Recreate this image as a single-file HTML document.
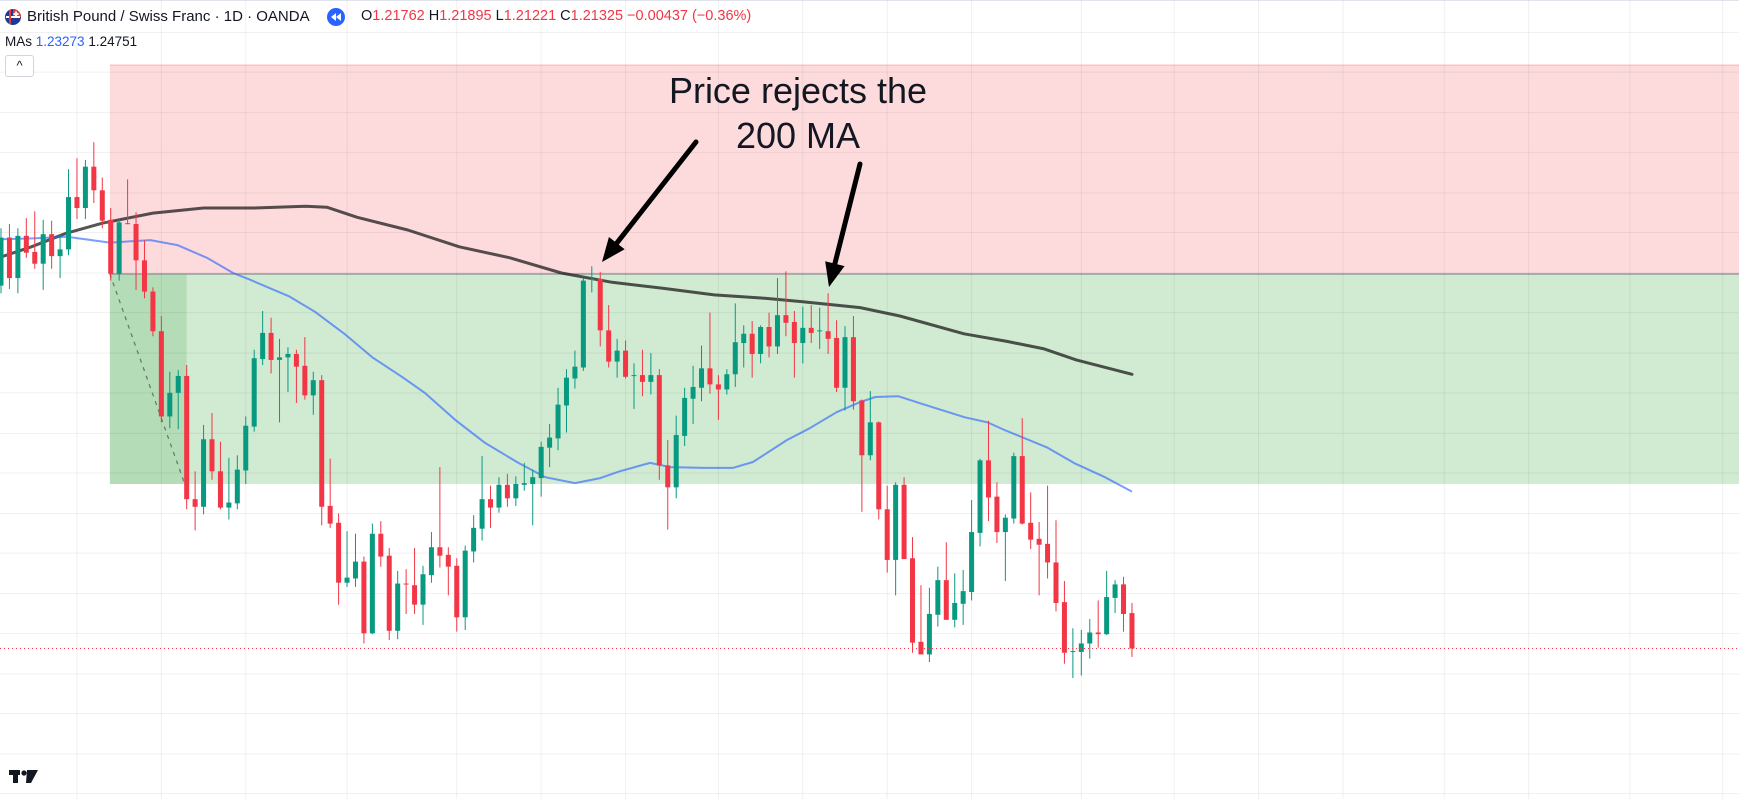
<!DOCTYPE html>
<html><head><meta charset="utf-8"><title>GBPCHF chart</title>
<style>
html,body{margin:0;padding:0;background:#fff;}
body{width:1739px;height:799px;overflow:hidden;position:relative;font-family:"Liberation Sans",sans-serif;}
#chart{position:absolute;left:0;top:0;}
.hdr{position:absolute;left:0;top:0;height:34px;width:1739px;font-size:15px;color:#131722;white-space:nowrap;}
.red{color:#f23645;}
</style></head>
<body>
<svg id="chart" width="1739" height="799" viewBox="0 0 1739 799" xmlns="http://www.w3.org/2000/svg">
  <rect x="0" y="0" width="1739" height="799" fill="#ffffff"/>
  <line x1="0" y1="0.5" x2="1739" y2="0.5" stroke="#e0e3eb"/>
  <g id="zones"></g>
  <g id="grid"></g>
  <g id="mas"></g>
  <g id="candles"></g>
  <g id="annot">
    <text x="798" y="103" font-size="36" text-anchor="middle" fill="#131722" font-family="Liberation Sans, sans-serif">Price rejects the</text>
    <text x="798" y="148" font-size="36" text-anchor="middle" fill="#131722" font-family="Liberation Sans, sans-serif">200 MA</text>
  </g>
  <g>
    <rect x="9" y="770" width="11" height="5" fill="#131722"/>
    <rect x="13" y="770" width="5" height="13" fill="#131722"/>
    <circle cx="24" cy="773" r="2.6" fill="#131722"/>
    <polygon points="27,770 32,770 38,770 31,783 26,783" fill="#131722"/>
  </g>
</svg>

<div class="hdr">
  <svg style="position:absolute;left:4px;top:8px" width="18" height="18">
    <circle cx="9" cy="9" r="8" fill="#1f3a93"/>
    <path d="M9 1 A8 8 0 0 1 17 9 L9 9 Z" fill="#e53935"/>
    <rect x="11" y="3.5" width="2" height="5" fill="#fff"/><rect x="9.5" y="5" width="5" height="2" fill="#fff"/>
    <line x1="2" y1="9" x2="16" y2="9" stroke="#fff" stroke-width="2"/>
    <line x1="6" y1="2" x2="6" y2="16" stroke="#e53935" stroke-width="2"/>
  </svg>
  <span style="position:absolute;left:27px;top:8px;font-size:15px">British Pound / Swiss Franc · 1D · OANDA</span>
  <svg style="position:absolute;left:327px;top:8px" width="18" height="18">
    <circle cx="9" cy="9" r="9" fill="#2962ff"/>
    <polygon points="4,9 9,5 9,13" fill="#fff"/><polygon points="9,9 14,5 14,13" fill="#fff"/>
  </svg>
  <span style="position:absolute;left:361px;top:8px;font-size:14.5px">O<span class="red">1.21762</span> H<span class="red">1.21895</span> L<span class="red">1.21221</span> C<span class="red">1.21325</span> <span class="red">−0.00437 (−0.36%)</span></span>
  <span style="position:absolute;left:5px;top:34px;font-size:13.5px">MAs <span style="color:#2962ff">1.23273</span> 1.24751</span>
  <div style="position:absolute;left:5px;top:55px;width:27px;height:20px;border:1px solid #d1d4dc;border-radius:3px;background:#fff;text-align:center;font-size:13px;line-height:20px">^</div>
</div>

<script>
// ---- data ----
const opens = [1.2601,1.2658,1.2610,1.2660,1.2641,1.2627,1.2662,1.2636,1.2644,1.2706,1.2693,1.2742,1.2714,1.2679,1.2615,1.2675,1.2674,1.2631,1.2594,1.2547,1.2446,1.2474,1.2494,1.2348,1.2339,1.2419,1.2381,1.2338,1.2343,1.2382,1.2434,1.2514,1.2545,1.2513,1.2516,1.2520,1.2506,1.2471,1.2489,1.2340,1.2320,1.2249,1.2254,1.2274,1.2189,1.2307,1.2281,1.2192,1.2248,1.2246,1.2223,1.2258,1.2291,1.2282,1.2269,1.2208,1.2286,1.2313,1.2348,1.2338,1.2365,1.2349,1.2365,1.2366,1.2373,1.2409,1.2420,1.2459,1.2491,1.2504,1.2608,1.2609,1.2548,1.2511,1.2524,1.2494,1.2495,1.2487,1.2495,1.2388,1.2362,1.2423,1.2467,1.2480,1.2503,1.2484,1.2478,1.2496,1.2533,1.2544,1.2520,1.2552,1.2529,1.2566,1.2558,1.2533,1.2551,1.2547,1.2547,1.2539,1.2480,1.2540,1.2465,1.2400,1.2439,1.2336,1.2276,1.2365,1.2278,1.2179,1.2164,1.2211,1.2252,1.2205,1.2224,1.2238,1.2308,1.2394,1.2351,1.2309,1.2325,1.2399,1.2320,1.2301,1.2295,1.2273,1.2226,1.2167,1.2167,1.2177,1.2190,1.2188,1.2231,1.2247,1.2213];
const highs = [1.2669,1.2674,1.2669,1.2681,1.2689,1.2679,1.2678,1.2661,1.2739,1.2752,1.2750,1.2771,1.2729,1.2693,1.2679,1.2727,1.2688,1.2655,1.2599,1.2565,1.2499,1.2501,1.2507,1.2381,1.2436,1.2450,1.2416,1.2397,1.2400,1.2446,1.2525,1.2571,1.2563,1.2538,1.2528,1.2525,1.2540,1.2499,1.2495,1.2396,1.2331,1.2310,1.2307,1.2280,1.2319,1.2322,1.2290,1.2263,1.2265,1.2290,1.2269,1.2309,1.2386,1.2291,1.2278,1.2293,1.2329,1.2399,1.2364,1.2374,1.2378,1.2375,1.2391,1.2383,1.2416,1.2437,1.2480,1.2502,1.2524,1.2610,1.2624,1.2617,1.2578,1.2538,1.2536,1.2509,1.2525,1.2521,1.2502,1.2418,1.2447,1.2480,1.2506,1.2530,1.2569,1.2495,1.2502,1.2580,1.2554,1.2559,1.2554,1.2569,1.2610,1.2618,1.2571,1.2576,1.2578,1.2575,1.2592,1.2560,1.2553,1.2565,1.2466,1.2476,1.2440,1.2364,1.2368,1.2374,1.2303,1.2246,1.2243,1.2268,1.2297,1.2260,1.2264,1.2347,1.2396,1.2441,1.2368,1.2330,1.2403,1.2444,1.2356,1.2321,1.2364,1.2323,1.2251,1.2195,1.2193,1.2206,1.2228,1.2263,1.2252,1.2256,1.2225];
const lows = [1.2592,1.2597,1.2592,1.2634,1.2621,1.2596,1.2621,1.2610,1.2637,1.2680,1.2680,1.2699,1.2669,1.2607,1.2607,1.2674,1.2596,1.2586,1.2541,1.2439,1.2432,1.2431,1.2336,1.2311,1.2330,1.2371,1.2336,1.2324,1.2336,1.2366,1.2428,1.2507,1.2497,1.2439,1.2475,1.2462,1.2466,1.2448,1.2317,1.2314,1.2223,1.2244,1.2244,1.2177,1.2188,1.2268,1.2181,1.2182,1.2212,1.2212,1.2199,1.2249,1.2267,1.2234,1.2191,1.2193,1.2273,1.2299,1.2314,1.2332,1.2339,1.2340,1.2358,1.2317,1.2351,1.2386,1.2406,1.2427,1.2479,1.2500,1.2593,1.2529,1.2504,1.2492,1.2491,1.2455,1.2470,1.2472,1.2371,1.2312,1.2349,1.2411,1.2437,1.2464,1.2473,1.2442,1.2472,1.2481,1.2504,1.2492,1.2509,1.2516,1.2520,1.2541,1.2492,1.2509,1.2533,1.2526,1.2520,1.2475,1.2453,1.2454,1.2333,1.2394,1.2324,1.2261,1.2234,1.2277,1.2166,1.2164,1.2155,1.2197,1.2205,1.2196,1.2199,1.2228,1.2292,1.2322,1.2296,1.2251,1.2319,1.2318,1.2289,1.2234,1.2254,1.2215,1.2153,1.2136,1.2139,1.2159,1.2172,1.2187,1.2213,1.2191,1.2161];
const closes = [1.2658,1.2610,1.2660,1.2640,1.2627,1.2662,1.2636,1.2644,1.2706,1.2693,1.2742,1.2714,1.2678,1.2615,1.2676,1.2674,1.2631,1.2594,1.2547,1.2446,1.2474,1.2494,1.2348,1.2339,1.2419,1.2381,1.2338,1.2344,1.2383,1.2435,1.2515,1.2545,1.2513,1.2516,1.2520,1.2505,1.2471,1.2489,1.2339,1.2319,1.2249,1.2255,1.2274,1.2189,1.2307,1.2280,1.2192,1.2248,1.2247,1.2223,1.2259,1.2291,1.2281,1.2268,1.2208,1.2287,1.2314,1.2348,1.2338,1.2365,1.2349,1.2366,1.2367,1.2374,1.2410,1.2421,1.2460,1.2492,1.2505,1.2607,1.2609,1.2548,1.2511,1.2524,1.2493,1.2495,1.2487,1.2495,1.2388,1.2362,1.2424,1.2468,1.2481,1.2503,1.2484,1.2478,1.2496,1.2534,1.2544,1.2520,1.2552,1.2529,1.2566,1.2557,1.2533,1.2551,1.2545,1.2548,1.2538,1.2480,1.2540,1.2464,1.2400,1.2439,1.2336,1.2276,1.2365,1.2277,1.2178,1.2164,1.2212,1.2252,1.2205,1.2225,1.2239,1.2309,1.2394,1.2350,1.2309,1.2326,1.2399,1.2319,1.2300,1.2294,1.2273,1.2225,1.2166,1.2168,1.2177,1.2190,1.2188,1.2232,1.2247,1.2212,1.2171];
const ma200Idx = [0,3.6,7.7,12,18,24,30,36.1,38.6,42.2,48.2,54.3,60.3,66.4,72.4,78.4,84.5,90.5,95,101.8,106.5,114.1,119.2,123.6,127.4,134];
const ma200Val = [1.2635,1.2647,1.2663,1.2675,1.2687,1.2693,1.2693,1.2695,1.2694,1.2682,1.2667,1.2647,1.2634,1.2616,1.2605,1.2598,1.2590,1.2586,1.2582,1.2575,1.2565,1.2544,1.2535,1.2526,1.2513,1.2496];
const ma50Idx = [0,3.8,7.8,12.9,17.7,20.9,24.4,27.5,29.5,34.2,37.2,40.8,44,47.5,50.2,53.8,57.3,61.3,64.5,68,71,73.3,76.9,79.3,83.2,86.7,89.1,93.1,95.8,99,101.8,103.6,106.3,109.1,114.2,116.9,118.9,124,127.3,130.8,134];
const ma50Val = [1.2656,1.2657,1.2659,1.2652,1.2655,1.2649,1.2634,1.2616,1.2608,1.2588,1.2570,1.2543,1.2516,1.2493,1.2474,1.2442,1.2415,1.2391,1.2374,1.2367,1.2373,1.2381,1.2391,1.2386,1.2385,1.2385,1.2392,1.2418,1.2432,1.2451,1.2463,1.2469,1.2470,1.2461,1.2445,1.2439,1.2430,1.2409,1.2390,1.2374,1.2357];
const zoneStartIdx = 12.9;
const zoneFillEndIdx = 22;
const stopPrice = 1.28625;
const entryPrice = 1.26148;
const targetPrice = 1.2366;
const gridPrices = [1.2901,1.2854,1.2806,1.2759,1.2711,1.2664,1.2616,1.2569,1.2521,1.2474,1.2426,1.2379,1.2331,1.2284,1.2236,1.2189,1.2141,1.2094,1.2046,1.1999];
const gridTimes = [9,19,29,41,54,64,74,85,95,105,115,128,139,149,159,171,181,193,204];

// ---- scales ----
const SVGNS = "http://www.w3.org/2000/svg";
function xS(i){ return 1 + 8.44*i; }
function yS(p){ return (1.29395 - p)/0.0001185; }
function mk(tag, attrs, parent){ const e=document.createElementNS(SVGNS,tag); for(const k in attrs) e.setAttribute(k,attrs[k]); parent.appendChild(e); return e; }
const W = 1739;

// zones
const zg = document.getElementById('zones');
const zx = xS(zoneStartIdx);
let r1 = mk('rect',{x:zx,y:yS(stopPrice),width:W-zx,height:yS(entryPrice)-yS(stopPrice),fill:'rgba(242,54,69,0.18)'},zg);


let rt = mk('line',{x1:zx,x2:W,y1:yS(stopPrice),y2:yS(stopPrice),stroke:'rgba(242,54,69,0.3)','stroke-width':1},zg);


let r2 = mk('rect',{x:zx,y:yS(entryPrice),width:W-zx,height:yS(targetPrice)-yS(entryPrice),fill:'rgba(76,175,80,0.26)'},zg);


let r3 = mk('rect',{x:zx,y:yS(entryPrice),width:xS(zoneFillEndIdx)-zx,height:yS(targetPrice)-yS(entryPrice),fill:'rgba(76,175,80,0.22)'},zg);



// grid
const gg = document.getElementById('grid');
gridPrices.forEach(p=>{
  const l = mk('line',{x1:0,x2:W,y1:yS(p),y2:yS(p),stroke:'rgba(0,0,0,0.06)','stroke-width':1},gg);
  
  
});
gridTimes.forEach(t=>{
  const l = mk('line',{x1:xS(t),x2:xS(t),y1:0,y2:799,stroke:'rgba(0,0,0,0.06)','stroke-width':1},gg);
  
  
});
// entry line
let el = mk('line',{x1:zx,x2:W,y1:yS(entryPrice),y2:yS(entryPrice),stroke:'#787b86','stroke-width':1},zg);


// dashed trade path
let dl = mk('line',{x1:xS(zoneStartIdx),y1:yS(entryPrice),x2:xS(zoneFillEndIdx-0.3),y2:yS(targetPrice+0.0002),stroke:'#6b7a6e','stroke-width':1.3,'stroke-dasharray':'4 5'},zg);



// MAs
const mg = document.getElementById('mas');
function pathFrom(idx, val){ return idx.map((t,k)=>(k?'L':'M')+xS(t).toFixed(1)+' '+yS(val[k]).toFixed(1)).join(' '); }
let m1 = mk('path',{d:pathFrom(ma200Idx,ma200Val),fill:'none',stroke:'rgba(20,20,20,0.72)','stroke-width':3,'stroke-linejoin':'round','stroke-linecap':'round'},mg);


let m2 = mk('path',{d:pathFrom(ma50Idx,ma50Val),fill:'none',stroke:'rgba(41,98,255,0.62)','stroke-width':2,'stroke-linejoin':'round'},mg);



// candles
const cg = document.getElementById('candles');
opens.forEach((o,i)=>{
  const c = closes[i], up = c >= o, col = up ? '#089981' : '#f23645';
  const x = xS(i);
  const w = mk('line',{x1:x,x2:x,y1:yS(highs[i]),y2:yS(lows[i]),stroke:col,'stroke-width':1},cg);
  
  
  const top = yS(Math.max(o,c)), bot = yS(Math.min(o,c));
  const b = mk('rect',{x:x-2.5,y:top,width:5,height:Math.max(1,bot-top),fill:col},cg);
  
  
});
// last price line
let lp = mk('line',{x1:0,x2:W,y1:yS(closes[closes.length-1]),y2:yS(closes[closes.length-1]),stroke:'#f23645','stroke-width':1,'stroke-dasharray':'1 3'},cg);



// arrows
const ag = document.getElementById('annot');
function arrow(x1,y1,x2,y2,name){
  const dx=x2-x1, dy=y2-y1, L=Math.hypot(dx,dy), ux=dx/L, uy=dy/L, hl=24, hw=10;
  const bx=x2-ux*hl, by=y2-uy*hl;
  const s = mk('line',{x1:x1,y1:y1,x2:bx+ux*2,y2:by+uy*2,stroke:'#000','stroke-width':5,'stroke-linecap':'round'},ag);
  
  
  const h = mk('polygon',{points:`${x2},${y2} ${bx-uy*hw},${by+ux*hw} ${bx+uy*hw},${by-ux*hw}`,fill:'#000'},ag);
  
  
}
arrow(696,142,602,262,'arrow-first-rejection');
arrow(860,164,829,287,'arrow-second-rejection');
</script>
</body></html>
